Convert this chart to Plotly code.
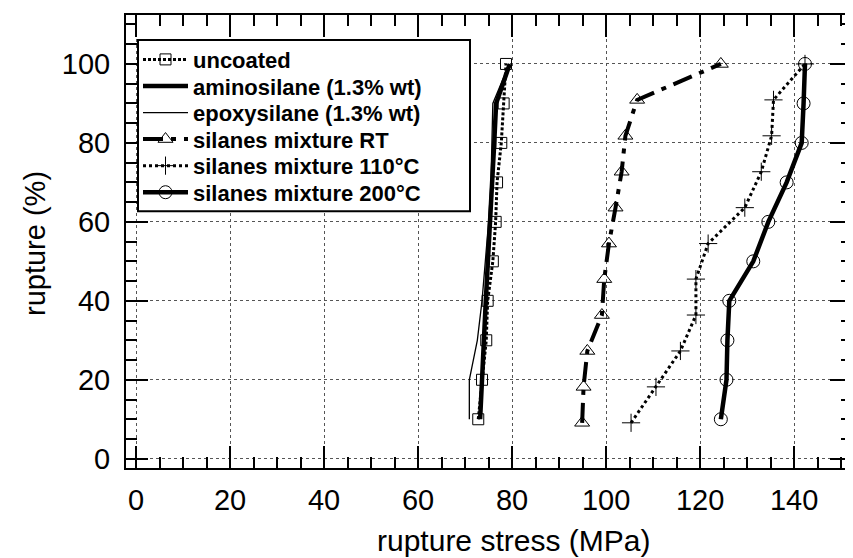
import plotly.graph_objects as go

# ---- data ----
y10 = [10, 20, 30, 40, 50, 60, 70, 80, 90, 100]
y11 = [9.1, 18.2, 27.3, 36.4, 45.5, 54.5, 63.6, 72.7, 81.8, 90.9, 100]

x_uncoated = [72.8, 73.6, 74.5, 74.8, 75.9, 76.5, 76.8, 77.7, 78.2, 78.7]
x_amino = [73.2, 73.5, 74.0, 74.4, 74.9, 75.4, 75.9, 76.2, 76.6, 79.5]
x_epoxy = [70.9, 70.9, 72.6, 73.6, 74.3, 75.0, 75.5, 75.7, 75.9, 79.4]
x_rt = [94.9, 95.2, 96.0, 99.1, 99.6, 100.6, 102.0, 103.3, 104.1, 106.6, 124.4]
x_110 = [105.3, 110.6, 115.8, 119.1, 119.1, 121.7, 129.5, 133.0, 135.2, 135.6, 142.3]
x_200 = [124.4, 125.6, 125.8, 126.2, 131.3, 134.5, 138.4, 141.6, 142.0, 142.3]

names = ["uncoated", "aminosilane (1.3% wt)", "epoxysilane (1.3% wt)",
         "silanes mixture RT", "silanes mixture 110°C", "silanes mixture 200°C"]

x_ticks = [0, 20, 40, 60, 80, 100, 120, 140]
y_ticks = [0, 20, 40, 60, 80, 100]

FONT = "Liberation Sans, Arial, sans-serif"

# plot-area geometry (pixels)
L, R, T, B = 118, 844, 5, 460
W, H = R - L, B - T


def px_to_paper(px, py):
    return (px - L) / W, (B - py) / H


legend_ids = ["legend", "legend2", "legend3", "legend4", "legend5", "legend6"]

fig = go.Figure()
fig.add_trace(go.Scatter(x=x_uncoated, y=y10, name=names[0], mode="lines+markers", legend=legend_ids[0],
                         line=dict(color="black", width=3, dash="3px,2px"),
                         marker=dict(symbol="square-open", size=11, color="black", line=dict(width=1))))
fig.add_trace(go.Scatter(x=x_amino, y=y10, name=names[1], mode="lines", legend=legend_ids[1],
                         line=dict(color="black", width=4.5)))
fig.add_trace(go.Scatter(x=x_epoxy, y=y10, name=names[2], mode="lines", legend=legend_ids[2],
                         line=dict(color="black", width=1.3)))
fig.add_trace(go.Scatter(x=x_rt, y=y11, name=names[3], mode="lines+markers", legend=legend_ids[3],
                         line=dict(color="black", width=4, dash="20px,8px,5px,8px"),
                         marker=dict(symbol="triangle-up-open", size=13, color="black", line=dict(width=1))))
fig.add_trace(go.Scatter(x=x_110, y=y11, name=names[4], mode="lines+markers", legend=legend_ids[4],
                         line=dict(color="black", width=3, dash="3px,3px"),
                         marker=dict(symbol="cross-thin-open", size=13, color="black", line=dict(width=1))))
fig.add_trace(go.Scatter(x=x_200, y=y10, name=names[5], mode="lines+markers", legend=legend_ids[5],
                         line=dict(color="black", width=4.5),
                         marker=dict(symbol="circle-open", size=13, color="black", line=dict(width=1))))

axis_common = dict(
    showline=True, linecolor="black", linewidth=2, mirror="allticks",
    ticks="inside", ticklen=22, tickwidth=2, tickcolor="black",
    showgrid=True, gridcolor="#555", gridwidth=1, griddash="dot",
    zeroline=False,
    tickfont=dict(family=FONT, size=29, color="black"),
    minor=dict(ticks="inside", ticklen=11, tickwidth=2, tickcolor="black", dtick=5, showgrid=False),
)

fig.update_xaxes(range=[-2.13, 152.3], tickvals=x_ticks, ticklabelstandoff=5, **axis_common)
fig.update_yaxes(range=[-2.35, 112.4], tickvals=y_ticks, ticklabelstandoff=8, **axis_common)

# legend frame
lx0, ly1 = px_to_paper(130, 30)
lx1, ly0 = px_to_paper(462, 202)
fig.add_shape(type="rect", xref="paper", yref="paper", x0=lx0, x1=lx1, y0=ly0, y1=ly1,
              line=dict(color="black", width=2), fillcolor="white", layer="above")

row_centres = [49.8, 76.5, 103.2, 129.8, 156.5, 183.2]
legend_layouts = {}
for lid, yc in zip(legend_ids, row_centres):
    px, py = px_to_paper(130, yc)
    legend_layouts[lid] = dict(x=px, y=py, xanchor="left", yanchor="middle",
                               bgcolor="rgba(0,0,0,0)", borderwidth=0, itemwidth=45,
                               font=dict(family=FONT, size=22, color="black", weight="bold"))

xt_x, xt_y = px_to_paper(505, 533)
yt_x, yt_y = px_to_paper(27, 235)

fig.update_layout(
    width=853, height=558,
    margin=dict(l=L, r=853 - R, t=T, b=558 - B),
    plot_bgcolor="white", paper_bgcolor="white",
    showlegend=True,
    annotations=[
        dict(text="rupture stress (MPa)", xref="paper", yref="paper",
             x=xt_x, y=xt_y, xanchor="center", yanchor="middle",
             showarrow=False, font=dict(family=FONT, size=30, color="black")),
        dict(text="rupture (%)", xref="paper", yref="paper",
             x=yt_x, y=yt_y, xanchor="center", yanchor="middle",
             textangle=-90, showarrow=False, font=dict(family=FONT, size=29, color="black")),
    ],
    **legend_layouts,
)

fig.write_html("out.html")
